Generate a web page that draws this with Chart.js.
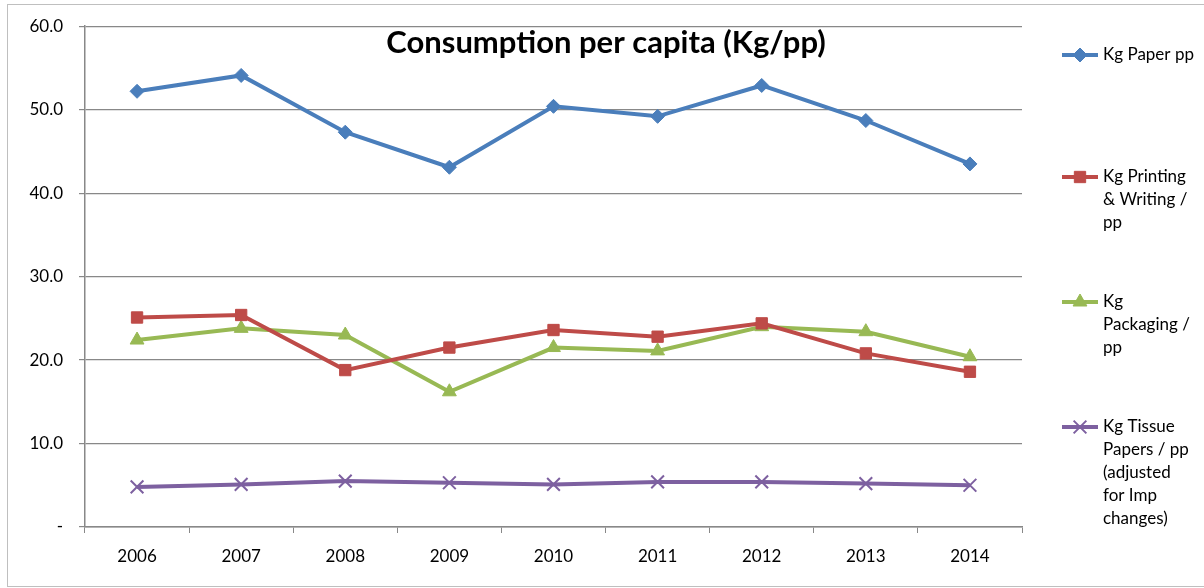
<!DOCTYPE html>
<html>
<head>
<meta charset="utf-8">
<script src="https://cdn.jsdelivr.net/npm/chart.js"></script>
<style>
  html, body { margin: 0; padding: 0; background: #fff; }
  #wrap { width: 1204px; height: 588px; position: relative; }
</style>
</head>
<body>
<div id="wrap"><canvas id="chart" width="1204" height="588"></canvas></div>
<script>
// Years on the x axis
var years = ['2006', '2007', '2008', '2009', '2010', '2011', '2012', '2013', '2014'];

// Series values (Kg per person)
var paper_pp = [52.2, 54.1, 47.3, 43.1, 50.4, 49.2, 52.9, 48.7, 43.5];
var printing_pp = [25.1, 25.4, 18.8, 21.5, 23.6, 22.8, 24.4, 20.8, 18.6];
var packaging_pp = [22.4, 23.8, 23.0, 16.2, 21.5, 21.1, 24.0, 23.4, 20.4];
var tissue_pp = [4.8, 5.1, 5.5, 5.3, 5.1, 5.4, 5.4, 5.2, 5.0];

// Legend texts, one line per entry
var legend_lines = [
    ['Kg Paper pp'],
    ['Kg Printing', '& Writing /', 'pp'],
    ['Kg', 'Packaging /', 'pp'],
    ['Kg Tissue', 'Papers / pp', '(adjusted', 'for Imp', 'changes)']
];
var legend_top = [55, 177, 302, 427];

const font_name = 'Lato, "Open Sans", sans-serif';

// Title and legend are drawn by hand, the title sits inside the plot area
const extras = {
    id: 'extras',
    afterDraw(chart) {
        const ctx = chart.ctx;
        ctx.save();

        // outer frame
        ctx.strokeStyle = '#bfbfbf';
        ctx.lineWidth = 1;
        ctx.strokeRect(7.5, 4.5, 1210, 582);

        // title
        ctx.fillStyle = '#000';
        ctx.font = 'bold 31px ' + font_name;
        ctx.textAlign = 'center';
        ctx.textBaseline = 'alphabetic';
        ctx.fillText('Consumption per capita (Kg/pp)', 606, 53);

        // legend
        chart.data.datasets.forEach((ds, i) => {
            const y = legend_top[i];
            ctx.strokeStyle = ds.borderColor;
            ctx.fillStyle = ds.borderColor;
            ctx.lineWidth = 4;
            ctx.beginPath();
            ctx.moveTo(1062, y);
            ctx.lineTo(1098, y);
            ctx.stroke();
            ctx.lineWidth = ds.pointBorderWidth;
            Chart.helpers.drawPoint(ctx, {
                pointStyle: ds.pointStyle,
                radius: ds.pointRadius,
                borderWidth: ds.pointBorderWidth
            }, 1080, y);
            ctx.fillStyle = '#000';
            ctx.font = '17px ' + font_name;
            ctx.textAlign = 'left';
            ctx.textBaseline = 'middle';
            legend_lines[i].forEach((line, j) => {
                ctx.fillText(line, 1103, y + j * 23);
            });
        });
        ctx.restore();
    }
};

function make_set(label, data, color, style, radius) {
    return {
        label: label,
        data: data,
        borderColor: color,
        backgroundColor: color,
        borderWidth: 4,
        pointStyle: style,
        pointRadius: radius,
        pointHoverRadius: radius,
        pointBorderColor: color,
        pointBackgroundColor: color,
        pointBorderWidth: style === 'crossRot' ? 2 : 1,
        tension: 0
    };
}

new Chart(document.getElementById('chart'), {
    type: 'line',
    data: {
        labels: years,
        datasets: [
            make_set(legend_lines[0].join(' '), paper_pp, '#4a7ebb', 'rectRot', 7),
            make_set(legend_lines[1].join(' '), printing_pp, '#be4b48', 'rect', 8),
            make_set(legend_lines[2].join(' '), packaging_pp, '#98b954', 'triangle', 8),
            make_set(legend_lines[3].join(' '), tissue_pp, '#7d60a0', 'crossRot', 9)
        ]
    },
    options: {
        responsive: false,
        animation: false,
        layout: { padding: { left: 0, top: 23, right: 182, bottom: 0 } },
        plugins: {
            legend: { display: false },
            title: { display: false },
            tooltip: { enabled: false }
        },
        scales: {
            x: {
                offset: true,
                afterFit(scale) { scale.height = 61; },
                grid: {
                    offset: true,
                    drawOnChartArea: false,
                    color: '#888',
                    tickLength: 6
                },
                border: { color: '#888', width: 1.5 },
                ticks: {
                    color: '#000',
                    font: { family: font_name, size: 17 },
                    padding: 13,
                    maxRotation: 0
                }
            },
            y: {
                min: 0,
                max: 60,
                afterFit(scale) { scale.width = 85; },
                grid: { color: '#888', lineWidth: 1.2, tickLength: 6 },
                border: { color: '#888', width: 1.5 },
                ticks: {
                    stepSize: 10,
                    color: '#000',
                    font: { family: font_name, size: 17 },
                    padding: 16,
                    callback: v => v === 0 ? '-' : v.toFixed(1)
                }
            }
        }
    },
    plugins: [extras]
});
</script>
</body>
</html>
